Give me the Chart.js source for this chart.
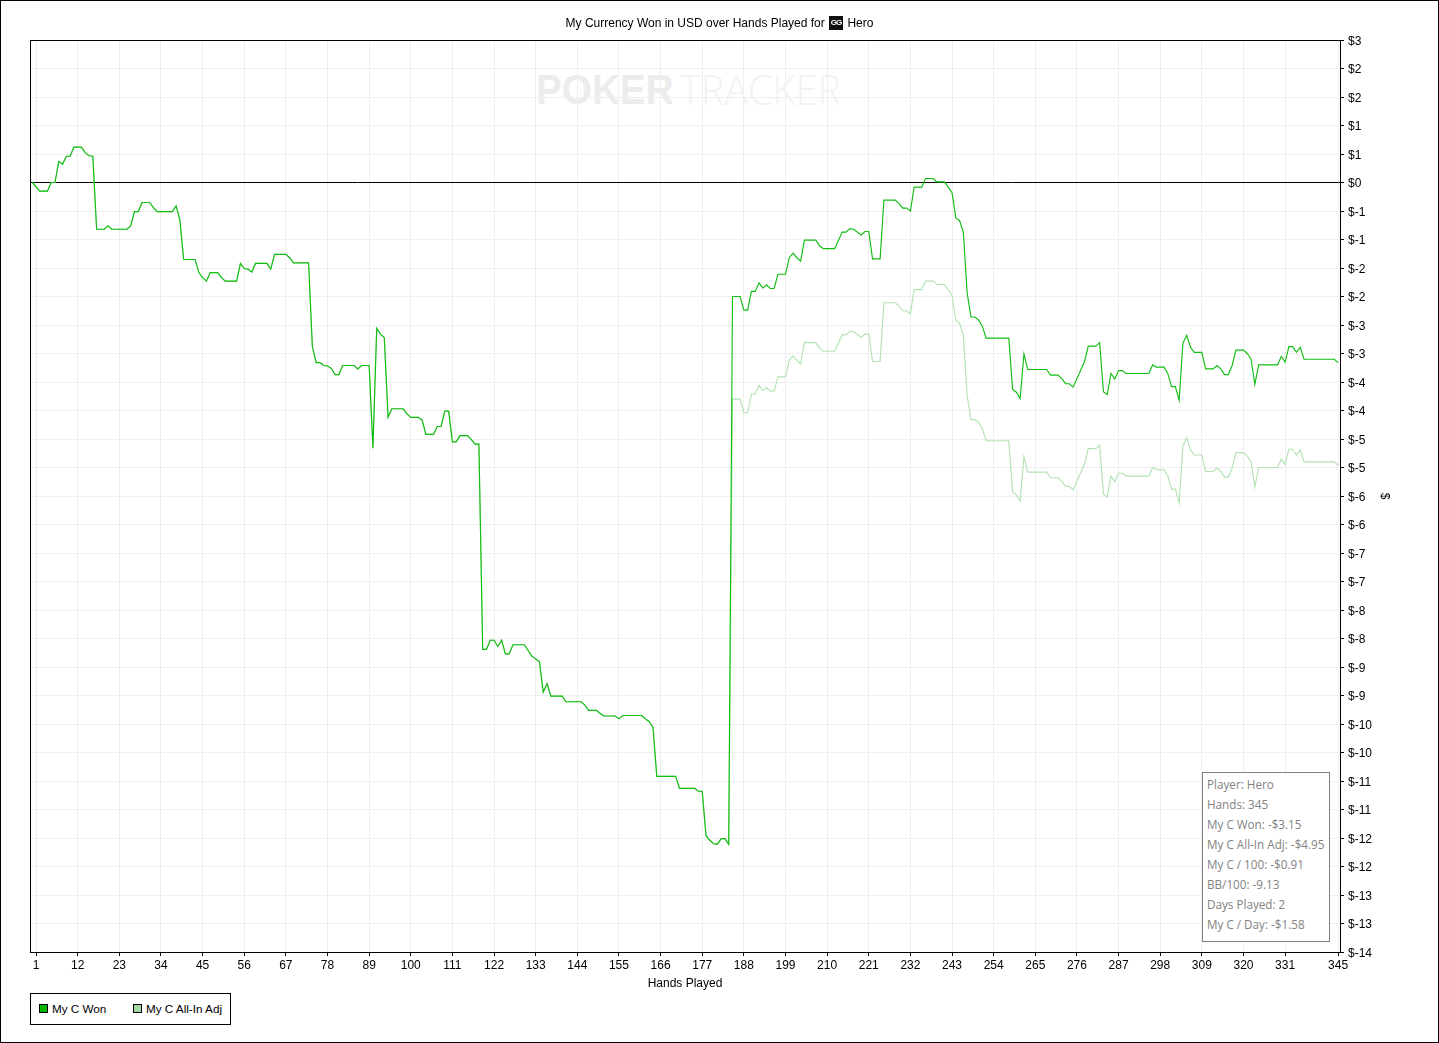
<!DOCTYPE html>
<html lang="en">

<head>
    <meta charset="UTF-8">
    <title>My Currency Won in USD over Hands Played</title>
    <script src="https://cdn.jsdelivr.net/npm/chart.js"></script>
    <style>
        html, body { margin: 0; padding: 0; background: #fff; overflow: hidden; }
        #page { position: relative; width: 1439px; height: 1043px; font-family: "Liberation Sans", Arial, sans-serif; color: #000; }
        #grafico { position: absolute; left: 0; top: 0; z-index: 1; }
        #titulo { position: absolute; left: 0; width: 1439px; top: 15px; text-align: center; font-size: 12px; line-height: 16px; z-index: 2; }
        #icone { display: inline-block; width: 14px; height: 14px; background: #111; border-top: 0; color: #fff; font-size: 8px; line-height: 14px; font-weight: bold; text-align: center; vertical-align: top; margin: 1px 1px 0 1px; letter-spacing: -1px; overflow: hidden; }
        #marca { position: absolute; left: 536px; top: 61px; z-index: 0; white-space: nowrap; font-size: 43px; line-height: 56px; }
        #marca b { position: absolute; left: 0; top: 0; color: #ececec; transform: scaleX(0.9); transform-origin: left; }
        #marca span { position: absolute; left: 144px; top: 0; color: #f3f3f3; font-family: "Open Sans", sans-serif; font-weight: 300; transform: scaleX(0.92); transform-origin: left; }
        #legenda { position: absolute; left: 30px; top: 993px; width: 199px; height: 30px; border: 1px solid #000; background: #fff; z-index: 2; font-size: 11.7px; line-height: 30px; }
        #legenda i { position: absolute; top: 10px; width: 7px; height: 7px; border: 1px solid #000; }
        #legenda span { position: absolute; top: 0; white-space: nowrap; }
        #info { position: absolute; left: 1202px; top: 772px; width: 126px; height: 168px; border: 1px solid #808080; background: #fff; z-index: 2; font-family: "Open Sans", sans-serif; font-size: 11.7px; color: #828282; }
        #info div { position: absolute; left: 4px; height: 20px; line-height: 20px; white-space: nowrap; }
    </style>
</head>

<body>
    <div id="page">
        <div id="marca"><b>POKER</b><span>TRACKER</span></div>
        <canvas id="grafico" width="1439" height="1043"></canvas>
        <div id="titulo">My Currency Won in USD over Hands Played for <span id="icone">GG</span> Hero</div>
        <div id="legenda">
            <i style="left: 8px; background: #00b400;"></i><span style="left: 21px;">My C Won</span>
            <i style="left: 102px; background: #a3d9a3;"></i><span style="left: 115px;">My C All-In Adj</span>
        </div>
        <div id="info"></div>
    </div>

    <script>
        const hands = [
            0, 2, 4, 5, 6, 7, 8, 9, 10, 11,
            13, 14, 15, 16, 17, 19, 20, 21, 25, 26,
            27, 28, 29, 31, 32, 33, 37, 38, 39, 40,
            43, 44, 45, 46, 47, 49, 50, 51, 54, 55,
            56, 57, 58, 59, 62, 63, 64, 67, 68, 69,
            73, 74, 75, 76, 77, 78, 79, 80, 81, 82,
            85, 86, 87, 89, 90, 91, 92, 93, 94, 95,
            98, 99, 100, 102, 103, 104, 106, 107, 108, 109,
            110, 111, 112, 113, 115, 116, 117, 118, 119, 120,
            121, 122, 123, 124, 125, 126, 127, 130, 131, 132,
            133, 134, 135, 136, 137, 140, 141, 145, 146, 147,
            149, 150, 151, 154, 155, 156, 161, 162, 163, 164,
            165, 170, 171, 175, 176, 177, 178, 179, 180, 181,
            182, 183, 184, 185, 187, 188, 189, 190, 191, 192,
            193, 194, 195, 196, 197, 199, 200, 201, 202, 203,
            204, 207, 208, 209, 212, 214, 215, 216, 217, 219,
            220, 221, 222, 224, 225, 228, 229, 230, 231, 232,
            233, 235, 236, 238, 239, 241, 243, 244, 245, 246,
            247, 248, 249, 250, 251, 252, 258, 259, 260, 261,
            262, 263, 268, 269, 271, 272, 273, 274, 275, 278,
            279, 281, 282, 283, 284, 285, 286, 287, 288, 289,
            295, 296, 297, 299, 300, 301, 302, 303, 304, 305,
            306, 307, 309, 310, 312, 313, 314, 315, 316, 317,
            318, 320, 321, 322, 323, 324, 329, 330, 331, 332,
            333, 334, 335, 336, 344, 345
        ];

        const won = [
            0, -0.15, -0.15, 0, 0, 0.37, 0.32, 0.46, 0.46, 0.62,
            0.62, 0.52, 0.47, 0.46, -0.82, -0.82, -0.76, -0.82, -0.82, -0.76,
            -0.51, -0.51, -0.35, -0.35, -0.44, -0.51, -0.51, -0.41, -0.66, -1.35,
            -1.35, -1.58, -1.67, -1.73, -1.58, -1.58, -1.67, -1.73, -1.73, -1.42,
            -1.51, -1.52, -1.57, -1.42, -1.42, -1.52, -1.26, -1.26, -1.32, -1.41,
            -1.41, -2.88, -3.16, -3.16, -3.21, -3.22, -3.26, -3.37, -3.37, -3.21,
            -3.21, -3.27, -3.21, -3.21, -4.66, -2.56, -2.66, -2.72, -4.12, -3.97,
            -3.97, -4.06, -4.12, -4.12, -4.17, -4.42, -4.42, -4.28, -4.28, -4.01,
            -4.01, -4.55, -4.55, -4.44, -4.44, -4.51, -4.59, -4.59, -8.19, -8.19,
            -8.03, -8.03, -8.14, -8.03, -8.27, -8.27, -8.11, -8.11, -8.21, -8.31,
            -8.36, -8.41, -8.94, -8.79, -9.01, -9.01, -9.11, -9.11, -9.17, -9.26,
            -9.26, -9.31, -9.36, -9.36, -9.41, -9.35, -9.35, -9.41, -9.46, -9.56,
            -10.42, -10.42, -10.63, -10.63, -10.68, -10.68, -11.46, -11.54, -11.6, -11.61,
            -11.51, -11.51, -11.61, -2, -2, -2.24, -2.24, -1.91, -1.91, -1.76,
            -1.85, -1.8, -1.86, -1.86, -1.61, -1.61, -1.32, -1.24, -1.32, -1.38,
            -1.01, -1.01, -1.11, -1.16, -1.16, -0.87, -0.87, -0.81, -0.82, -0.92,
            -0.86, -0.86, -1.34, -1.34, -0.31, -0.31, -0.37, -0.45, -0.45, -0.5,
            -0.08, -0.08, 0.07, 0.07, 0.01, 0.01, -0.18, -0.62, -0.67, -0.88,
            -1.94, -2.36, -2.36, -2.41, -2.52, -2.73, -2.73, -3.63, -3.68, -3.79,
            -3.01, -3.28, -3.28, -3.38, -3.38, -3.44, -3.53, -3.53, -3.59, -3.14,
            -2.87, -2.87, -2.81, -3.67, -3.72, -3.35, -3.45, -3.3, -3.3, -3.35,
            -3.35, -3.2, -3.24, -3.24, -3.35, -3.58, -3.58, -3.82, -2.82, -2.68,
            -2.89, -2.98, -2.98, -3.27, -3.27, -3.21, -3.27, -3.37, -3.37, -3.21,
            -2.94, -2.94, -3, -3.1, -3.54, -3.2, -3.2, -3.05, -3.15, -2.88,
            -2.88, -2.98, -2.89, -3.1, -3.1, -3.16
        ];

        const adj = [
            0, -0.15, -0.15, 0, 0, 0.37, 0.32, 0.46, 0.46, 0.62,
            0.62, 0.52, 0.47, 0.46, -0.82, -0.82, -0.76, -0.82, -0.82, -0.76,
            -0.51, -0.51, -0.35, -0.35, -0.44, -0.51, -0.51, -0.41, -0.66, -1.35,
            -1.35, -1.58, -1.67, -1.73, -1.58, -1.58, -1.67, -1.73, -1.73, -1.42,
            -1.51, -1.52, -1.57, -1.42, -1.42, -1.52, -1.26, -1.26, -1.32, -1.41,
            -1.41, -2.88, -3.16, -3.16, -3.21, -3.22, -3.26, -3.37, -3.37, -3.21,
            -3.21, -3.27, -3.21, -3.21, -4.66, -2.56, -2.66, -2.72, -4.12, -3.97,
            -3.97, -4.06, -4.12, -4.12, -4.17, -4.42, -4.42, -4.28, -4.28, -4.01,
            -4.01, -4.55, -4.55, -4.44, -4.44, -4.51, -4.59, -4.59, -8.19, -8.19,
            -8.03, -8.03, -8.14, -8.03, -8.27, -8.27, -8.11, -8.11, -8.21, -8.31,
            -8.36, -8.41, -8.94, -8.79, -9.01, -9.01, -9.11, -9.11, -9.17, -9.26,
            -9.26, -9.31, -9.36, -9.36, -9.41, -9.35, -9.35, -9.41, -9.46, -9.56,
            -10.42, -10.42, -10.63, -10.63, -10.68, -10.68, -11.46, -11.54, -11.6, -11.61,
            -11.51, -11.51, -11.61, -3.8, -3.8, -4.04, -4.04, -3.71, -3.71, -3.56,
            -3.65, -3.6, -3.66, -3.66, -3.41, -3.41, -3.12, -3.04, -3.12, -3.18,
            -2.81, -2.81, -2.91, -2.96, -2.96, -2.67, -2.67, -2.61, -2.62, -2.72,
            -2.66, -2.66, -3.14, -3.14, -2.11, -2.11, -2.17, -2.25, -2.25, -2.3,
            -1.88, -1.88, -1.73, -1.73, -1.79, -1.79, -1.98, -2.42, -2.47, -2.68,
            -3.74, -4.16, -4.16, -4.21, -4.32, -4.53, -4.53, -5.43, -5.48, -5.59,
            -4.81, -5.08, -5.08, -5.18, -5.18, -5.24, -5.33, -5.33, -5.39, -4.94,
            -4.67, -4.67, -4.61, -5.47, -5.52, -5.15, -5.25, -5.1, -5.1, -5.15,
            -5.15, -5, -5.04, -5.04, -5.15, -5.38, -5.38, -5.62, -4.62, -4.48,
            -4.69, -4.78, -4.78, -5.07, -5.07, -5.01, -5.07, -5.17, -5.17, -5.01,
            -4.74, -4.74, -4.8, -4.9, -5.34, -5, -5, -4.85, -4.95, -4.68,
            -4.68, -4.78, -4.69, -4.9, -4.9, -4.96
        ];

        const xTicks = [1, 12, 23, 34, 45, 56, 67, 78, 89, 100, 111, 122, 133, 144, 155, 166,
            177, 188, 199, 210, 221, 232, 243, 254, 265, 276, 287, 298, 309, 320, 331, 345];

        const yTicks = [-13.5, -13, -12.5, -12, -11.5, -11, -10.5, -10, -9.5, -9, -8.5, -8, -7.5, -7,
            -6.5, -6, -5.5, -5, -4.5, -4, -3.5, -3, -2.5, -2, -1.5, -1, -0.5, 0, 0.5, 1, 1.5, 2, 2.5];

        // os rotulos vem arredondados no original, por isso repetem
        const yLabels = ['$-14', '$-13', '$-13', '$-12', '$-12', '$-11', '$-11', '$-10', '$-10', '$-9', '$-9', '$-8', '$-8', '$-7',
            '$-7', '$-6', '$-6', '$-5', '$-5', '$-4', '$-4', '$-3', '$-3', '$-2', '$-2', '$-1', '$-1', '$0', '$1', '$1', '$2', '$2', '$3'];

        const infoLines = ['Player: Hero', 'Hands: 345', 'My C Won: -$3.15', 'My C All-In Adj: -$4.95',
            'My C / 100: -$0.91', 'BB/100: -9.13', 'Days Played: 2', 'My C / Day: -$1.58'];

        infoLines.forEach((linha, i) => {
            const d = document.createElement('div');
            d.textContent = linha;
            d.style.top = (1 + i * 20) + 'px';
            document.getElementById('info').appendChild(d);
        });

        const molduras = {
            id: 'molduras',
            afterDraw(chart) {
                const { ctx, chartArea: a } = chart;
                ctx.save();
                ctx.strokeStyle = '#000';
                ctx.lineWidth = 1;
                ctx.strokeRect(a.left + 0.5, a.top + 0.5, a.right - a.left, a.bottom - a.top);
                ctx.strokeRect(0.5, 0.5, 1438, 1042);
                ctx.restore();
            }
        };

        const fonte = { family: '"Liberation Sans", Arial, sans-serif', size: 12 };

        new Chart(document.getElementById('grafico'), {
            type: 'line',
            plugins: [molduras],
            data: {
                labels: hands,
                datasets: [
                    { label: 'My C Won', data: won, borderColor: '#12bd12', borderWidth: 1.15, pointRadius: 0, tension: 0, order: 1 },
                    { label: 'My C All-In Adj', data: adj, borderColor: '#b3e2b3', borderWidth: 1.15, pointRadius: 0, tension: 0, order: 2 }
                ]
            },
            options: {
                responsive: false,
                animation: false,
                devicePixelRatio: 1,
                layout: { padding: { left: 30, top: 40, right: 0, bottom: 0 } },
                plugins: { legend: { display: false }, title: { display: false }, tooltip: { enabled: false } },
                scales: {
                    x: {
                        type: 'linear',
                        min: -0.6,
                        max: 345.5,
                        afterBuildTicks: (scale) => { scale.ticks = xTicks.map((v) => ({ value: v })); },
                        afterFit: (scale) => { scale.height = 91; },
                        grid: { color: '#efefef', tickColor: '#000', tickLength: 4, lineWidth: 1 },
                        border: { color: '#000' },
                        ticks: { color: '#000', font: fonte, padding: 2, maxRotation: 0, autoSkip: false, callback: (v) => v },
                        title: { display: true, text: 'Hands Played', color: '#000', font: fonte, padding: { top: 0, bottom: 52 } }
                    },
                    y: {
                        position: 'right',
                        min: -13.5,
                        max: 2.5,
                        afterBuildTicks: (scale) => { scale.ticks = yTicks.map((v) => ({ value: v })); },
                        afterFit: (scale) => { scale.width = 99; },
                        grid: {
                            color: (c) => (c.tick && c.tick.value === 0 ? '#000' : '#efefef'),
                            tickColor: '#000',
                            tickLength: 4,
                            lineWidth: 1
                        },
                        border: { color: '#000' },
                        ticks: { color: '#000', font: fonte, padding: 4, labelOffset: 1.5, autoSkip: false, callback: (v, i) => yLabels[i] },
                        title: { display: true, text: '$', color: '#000', font: fonte, padding: { top: 47, bottom: 0 } }
                    }
                }
            }
        });
    </script>
</body>

</html>
